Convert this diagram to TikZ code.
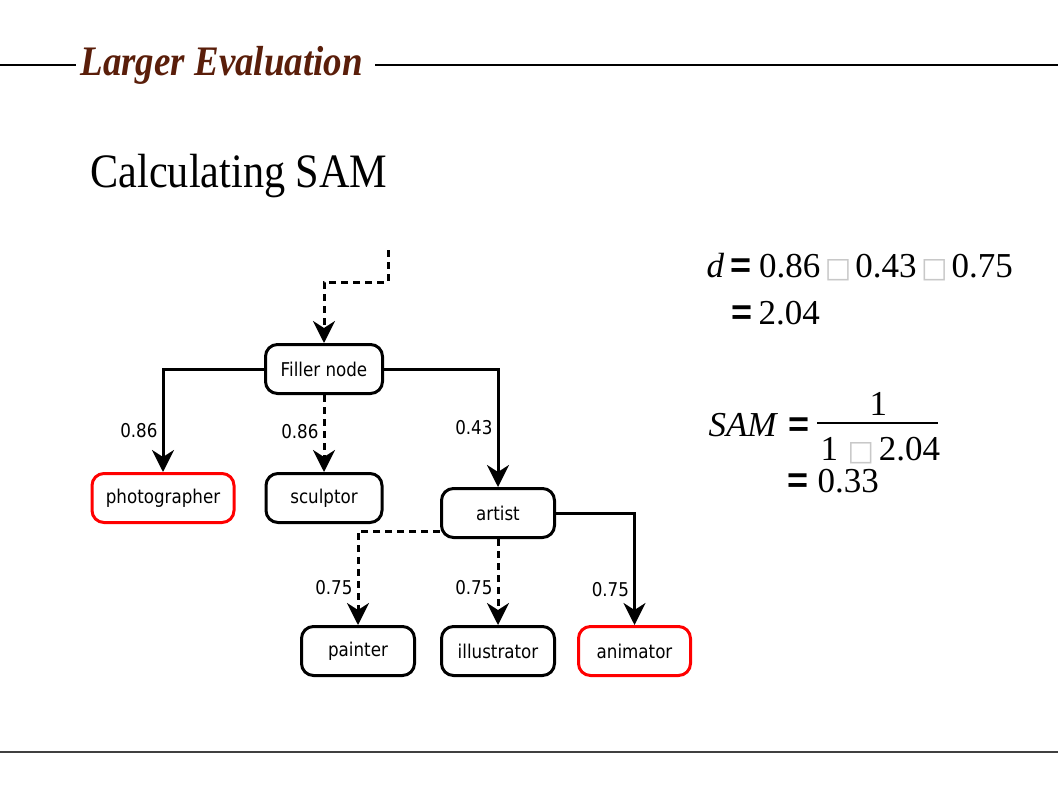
\documentclass[tikz,border=0pt]{standalone}
\usepackage{fontspec}
\setmainfont{Liberation Serif}
\newfontfamily\nodefont[FakeStretch=0.88]{DejaVu Sans}
\newfontfamily\boxfont{DejaVu Sans}
\newfontfamily\eqfont{Liberation Sans}
\newfontfamily\narrowserif[FakeStretch=0.88]{Liberation Serif}
\usetikzlibrary{arrows.meta, positioning}
\definecolor{titlebrown}{RGB}{90,30,10}
\definecolor{nogray}{RGB}{200,200,200}
\newcommand{\Eq}{{\eqfont\bfseries\fontsize{36}{36}\selectfont =}}
\newcommand{\Miss}{{\boxfont\color{nogray}\fontsize{28}{28}\selectfont □}}
\tikzset{
  every picture/.style={line width=3pt},
  concept/.style={draw, rounded corners=12pt, minimum width=113pt, minimum height=49pt, inner sep=0pt, font=\nodefont\fontsize{19}{19}\selectfont},
  leaf/.style={concept, draw=red},
  weight/.style={font=\nodefont\fontsize{19}{19}\selectfont, inner sep=4pt},
  link/.style={-{Stealth[length=22pt, width=22pt, inset=7pt]}},
  guess/.style={link, dash pattern=on 7pt off 5pt},
  formula/.style={font=\fontsize{35}{35}\selectfont, inner sep=0pt, anchor=base west}
}
\begin{document}
\begin{tikzpicture}[x=1pt, y=-1pt, node distance=24pt]
  \useasboundingbox (0,0) rectangle (1058,793);
  % slide header
  \node [font=\narrowserif\bfseries\itshape\fontsize{42}{42}\selectfont, text=titlebrown, anchor=base west, inner sep=3pt] (header) at (76,75) {Larger Evaluation};
  \coordinate (rule) at (0,65);
  \draw [line width=1.2pt] (rule) -- (rule -| header.west);
  \draw [line width=1.2pt] ([xshift=8pt]rule -| header.east) -- (1058,65);
  \node [font=\narrowserif\fontsize{48}{48}\selectfont, anchor=base west, inner sep=0pt] (heading) at (89,187) {Calculating SAM};
  \draw [line width=1.2pt, black!75] (0,752) -- (1058,752);

  % taxonomy
  \node [concept, minimum width=117pt] (filler) at (324,369) {Filler node};
  \node [concept, minimum width=116pt, below=77pt of filler] (sculptor) {sculptor};
  \node [leaf, minimum width=142pt, left=29pt of sculptor] (photographer) {photographer};
  \node [concept] (artist) at (498,513) {artist};
  \node [concept, below=86pt of artist] (illustrator) {illustrator};
  \node [concept, left=of illustrator] (painter) {painter};
  \node [leaf, minimum width=112pt, right=21pt of illustrator] (animator) {animator};

  \coordinate (entry) at (388,250);
  \draw [guess] (entry) -- ++(0,32) -| (filler.north);
  \draw [link] (filler.west) -| node [weight, left, pos=0.8] {0.86} (photographer.north);
  \draw [guess] (filler.south) -- node [weight, left, pos=0.47] {0.86} (sculptor.north);
  \draw [link] (filler.east) -| node [weight, left, pos=0.75] {0.43} (artist.north);
  \draw [guess] ([yshift=-18pt]artist.west) -| node [weight, left, pos=0.8] {0.75} (painter.north);
  \draw [guess] (artist.south) -- node [weight, left, pos=0.57] {0.75} (illustrator.north);
  \draw [link] (artist.east) -| node [weight, left, pos=0.84] {0.75} (animator.north);

  % formulas
  \node [formula] (dsum) at (705,277) {\textit{d}\hspace{6pt}\Eq\hspace{8pt}0.86\hspace{4.5pt}\Miss\hspace{4pt}0.43\hspace{4.5pt}\Miss\hspace{4pt}0.75};
  \node [formula] (dval) at (730,324) {\Eq\hspace{6pt}2.04};
  \node [formula] (samvar) at (707,436) {\textit{SAM}\hspace{10pt}\Eq};
  \node [formula] (num) at (868,415) {1};
  \node [formula] (den) at (819,460) {1\hspace{9.5pt}\Miss\hspace{5pt}2.04};
  \draw [line width=1.5pt] (817,423) -- (938,423);
  \node [formula] (samval) at (786,492) {\Eq\hspace{9pt}0.33};
\end{tikzpicture}
\end{document}
